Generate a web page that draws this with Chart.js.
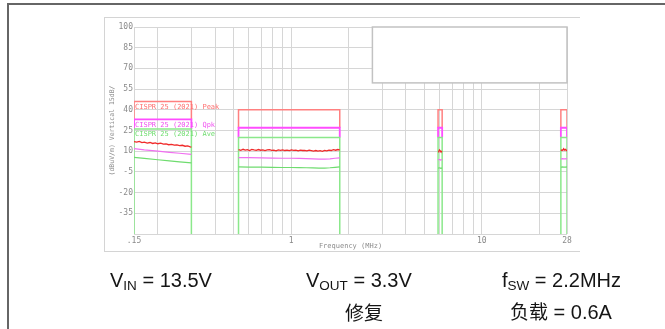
<!DOCTYPE html>
<html><head><meta charset="utf-8">
<script src="https://cdn.jsdelivr.net/npm/chart.js@4"></script>
<style>
html,body{margin:0;padding:0;background:#fff;width:665px;height:329px;overflow:hidden;}
#outer{position:absolute;left:7px;top:3px;width:700px;height:400px;border:2px solid #666;}
#frame{position:absolute;left:104px;top:17px;width:475px;height:233px;border-top:1px solid #d4d4d4;border-left:1px solid #d4d4d4;border-bottom:1px solid #d4d4d4;}
#cv{position:absolute;left:0;top:0;}
.t{position:absolute;font-family:"Liberation Sans",Arial,sans-serif;font-size:20px;color:#151515;white-space:nowrap;line-height:1;}
.t sub{font-size:13.5px;vertical-align:-3px;line-height:1;}
.cjk{font-family:'Noto Sans CJK SC',sans-serif;font-size:19px;}
</style></head>
<body>
<div id="outer"></div>
<div id="frame"></div>
<canvas id="cv" width="665" height="329"></canvas>
<div class="t" style="left:110px;top:270px;">V<sub>IN</sub> = 13.5V</div>
<div class="t" style="left:306px;top:270px;">V<sub>OUT</sub> = 3.3V</div>
<div class="t" style="left:502px;top:270px;">f<sub>SW</sub> = 2.2MHz</div>
<div class="t" style="left:345px;top:302px;"><span class="cjk">修复</span></div>
<div class="t" style="left:510px;top:301px;"><span class="cjk">负载</span> = 0.6A</div>
<script>
// ---- limit bands (MHz) and limit levels (dBuV/m)
const bandStart = [0.15, 0.53, 5.9, 26];
const bandEnd   = [0.3, 1.8, 6.2, 28];
const peakLimit = [46, 40, 40, 40];
const qpkLimit  = [33, 27, 27, 27];
const aveLimit  = [26, 20, 20, 20];
const limitNames = ['CISPR 25 (2021) Peak', 'CISPR 25 (2021) Qpk', 'CISPR 25 (2021) Ave'];

// ---- measured emissions
const lwFreq = [0.150,0.155,0.160,0.165,0.170,0.176,0.182,0.188,0.194,0.200,0.207,0.214,0.221,0.228,0.236,0.244,0.252,0.260,0.269,0.278,0.287,0.296,0.300];
const lwPeak = [17.0,16.6,17.1,16.2,16.5,15.9,16.3,15.6,16.0,15.4,15.8,15.1,15.3,14.7,15.0,14.4,14.6,14.0,14.3,13.6,13.8,13.2,13.0];
const lwAvgFreq = [0.15,0.17,0.20,0.23,0.26,0.30];
const lwQpk = [11.8,10.9,10.0,9.2,8.5,7.7];
const lwAve = [5.6,4.8,3.8,3.0,2.3,1.5];

const mwFreq = [0.530,0.545,0.560,0.575,0.590,0.606,0.622,0.639,0.656,0.674,0.692,0.711,0.730,0.750,0.770,0.791,0.812,0.834,0.857,0.880,0.904,0.928,0.953,0.979,1.005,1.032,1.060,1.089,1.118,1.148,1.179,1.211,1.244,1.277,1.312,1.347,1.383,1.421,1.459,1.498,1.539,1.580,1.623,1.667,1.712,1.758,1.800];
const mwPeak = [11.2,10.6,11.4,10.8,11.1,10.5,11.3,10.9,10.6,11.2,10.7,11.0,10.4,10.9,11.1,10.6,10.8,10.3,10.9,10.6,11.0,10.5,10.8,10.4,10.9,10.6,10.7,10.3,10.8,10.5,10.6,10.2,10.7,10.4,10.1,10.5,10.0,10.4,9.9,10.6,10.2,10.8,10.5,11.1,10.7,11.2,10.9];
const mwAvgFreq = [0.53,0.6,0.7,0.8,0.9,1.0,1.1,1.2,1.3,1.4,1.5,1.6,1.7,1.8];
const mwQpk = [5.4,5.3,5.1,5.0,4.9,4.9,4.8,4.6,4.4,4.3,4.2,4.5,4.9,5.2];
const mwAve = [-1.4,-1.5,-1.6,-1.7,-1.8,-1.8,-1.9,-2.0,-2.1,-2.2,-2.2,-2.0,-1.7,-1.4];

const swFreq = [5.9,5.95,6.0,6.05,6.1,6.15,6.2];
const swPeak = [9.6,9.9,10.9,10.3,9.7,9.8,9.6];
const swQpk  = [3.8,3.8,3.9,3.8,3.7,3.8,3.8];
const swAve  = [-2.2,-2.2,-2.1,-2.2,-2.3,-2.2,-2.2];

const cbFreq = [26.0,26.3,26.6,26.9,27.2,27.5,27.8,28.0];
const cbPeak = [10.4,10.9,10.6,11.8,10.8,11.3,10.5,10.9];
const cbQpk  = [4.5,4.5,4.6,4.5,4.4,4.5,4.6,4.5];
const cbAve  = [-1.5,-1.5,-1.4,-1.5,-1.6,-1.5,-1.4,-1.5];

// ---- axes
const yMin = -50, yMax = 100;
const yTickValues = [-50,-35,-20,-5,10,25,40,55,70,85,100];
const xMin = 0.15, xMax = 28;
const xGridValues = [0.15,0.2,0.3,0.4,0.5,0.6,0.7,0.8,0.9,1,2,3,4,5,6,7,8,9,10,20,28];
const xLabelValues = [0.15,1,10,28];
const xLabelTexts = ['.15','1','10','28'];
const legendBoxFreq = [2.67, 28];
const legendBoxLevel = [59.5, 100];

// each limit box: sides run from the next-lower limit (or axis floor) up to the level
function limitPath(levels, lower){
  const pts = [];
  bandStart.forEach((s,i)=>{
    const e = bandEnd[i];
    const lo = lower ? lower[i] : yMin;
    pts.push({x:s,y:lo},{x:s,y:levels[i]},{x:e,y:levels[i]},{x:e,y:lo},{x:e,y:null});
  });
  return pts;
}
function segs(list){
  const pts = [];
  list.forEach(([f,v])=>{ f.forEach((x,i)=>pts.push({x:x,y:v[i]})); pts.push({x:f[f.length-1],y:null}); });
  return pts;
}

const mono = "'DejaVu Sans Mono', monospace";
const annot = {
  id:'annot',
  beforeDatasetsDraw(chart){
    const {ctx, scales:{x,y}} = chart;
    const x0 = x.getPixelForValue(legendBoxFreq[0]), x1 = x.getPixelForValue(legendBoxFreq[1]);
    const y0 = y.getPixelForValue(legendBoxLevel[1]), y1 = y.getPixelForValue(legendBoxLevel[0]);
    ctx.save();
    ctx.fillStyle = '#fff';
    ctx.fillRect(x0, y0, x1-x0, y1-y0);
    ctx.strokeStyle = '#c2c2c2'; ctx.lineWidth = 1.5;
    ctx.strokeRect(x0, y0, x1-x0, y1-y0);
    ctx.restore();
  },
  afterDatasetsDraw(chart){
    const {ctx, scales:{x,y}, chartArea} = chart;
    ctx.save();
    ctx.font = '7px ' + mono;
    ctx.textBaseline = 'top';
    const cols = ['#ff6f6f','#f050f0','#6fdd6f'];
    [peakLimit,qpkLimit,aveLimit].forEach((lv,i)=>{
      ctx.fillStyle = cols[i];
      ctx.fillText(limitNames[i], x.getPixelForValue(bandStart[0])+1, y.getPixelForValue(lv[0])+2);
    });
    ctx.fillStyle = '#8c8c8c';
    ctx.textAlign = 'center';
    ctx.fillText('Frequency (MHz)', (chartArea.left+chartArea.right)/2, chartArea.bottom+9);
    ctx.translate(chartArea.left-22, (chartArea.top+chartArea.bottom)/2);
    ctx.rotate(-Math.PI/2);
    ctx.textBaseline = 'middle';
    ctx.font = '6.5px ' + mono;
    ctx.fillText('(dBuV/m) Vertical 15dB/', 0, 0);
    ctx.restore();
  }
};

new Chart(document.getElementById('cv'), {
  type:'line',
  data:{datasets:[
    {data:limitPath(aveLimit, null), borderColor:'#8be88b', borderWidth:1.5, order:1},
    {data:limitPath(qpkLimit, aveLimit), borderColor:'#ff4dff', borderWidth:1.8, order:2},
    {data:limitPath(peakLimit, qpkLimit), borderColor:'#ff8080', borderWidth:1.5, order:3},
    {data:segs([[lwFreq,lwPeak],[mwFreq,mwPeak],[swFreq,swPeak],[cbFreq,cbPeak]]), borderColor:'#f02a2a', borderWidth:1.3, order:0},
    {data:segs([[lwAvgFreq,lwQpk],[mwAvgFreq,mwQpk],[swFreq,swQpk],[cbFreq,cbQpk]]), borderColor:'#f070f0', borderWidth:1.2, order:0},
    {data:segs([[lwAvgFreq,lwAve],[mwAvgFreq,mwAve],[swFreq,swAve],[cbFreq,cbAve]]), borderColor:'#6fdc6f', borderWidth:1.2, order:0}
  ].map(d=>Object.assign({pointRadius:0, tension:0, spanGaps:false, fill:false}, d))},
  options:{
    responsive:false, animation:false, devicePixelRatio:1,
    layout:{padding:{left:0, top:27, right:98, bottom:0}},
    plugins:{legend:{display:false}, tooltip:{enabled:false}},
    scales:{
      x:{type:'logarithmic', min:xMin, max:xMax,
        afterBuildTicks(s){ s.ticks = xGridValues.map(v=>({value:v})); },
        afterFit(s){ s.height = 95; },
        grid:{color:'#d6d6d6', lineWidth:1, drawTicks:false},
        border:{display:false},
        ticks:{autoSkip:false, maxRotation:0, padding:2, color:'#8a8a8a', font:{family:mono, size:8},
          callback(v){ const i = xLabelValues.indexOf(v); return i>=0 ? xLabelTexts[i] : ''; }}
      },
      y:{min:yMin, max:yMax,
        afterBuildTicks(s){ s.ticks = yTickValues.map(v=>({value:v})); },
        afterFit(s){ s.width = 134; },
        grid:{color:'#d6d6d6', lineWidth:1, drawTicks:false},
        border:{display:false},
        ticks:{padding:1, color:'#8a8a8a', font:{family:mono, size:8},
          callback(v){ return v===yMin ? '' : String(v); }}
      }
    }
  },
  plugins:[annot]
});
</script>
</body></html>
